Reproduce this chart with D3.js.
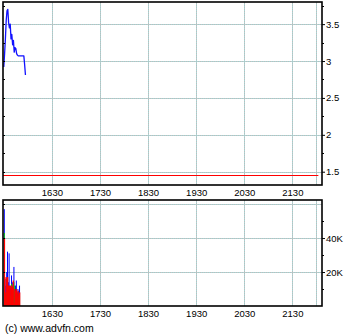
<!DOCTYPE html>
<html><head><meta charset="utf-8">
<script src="https://cdn.jsdelivr.net/npm/d3@7"></script>
<style>
html,body{margin:0;padding:0;background:#fff;}
svg{display:block;font-family:"Liberation Sans",Arial,sans-serif;}
</style></head>
<body>
<svg id="c" width="360" height="336"></svg>
<script>
// ---- data ----
const timeTickLabels = ["1630","1730","1830","1930","2030","2130"];
const sessionEnd = "2200";
const startTime = "1530";               // first minute of the series
const priceTicks = [1.5, 2, 2.5, 3, 3.5];
const priceTickLabels = ["1.5","2","2.5","3","3.5"];
const volumeTicks = [20000, 40000];
const volumeTickLabels = ["20K","40K"];
const prevClose = 1.45;
// one value per minute from 15:30
const prices = [2.92,3.10,3.30,3.55,3.68,3.70,3.52,3.45,3.50,3.30,3.36,3.22,3.28,3.12,3.18,3.17,3.10,3.08,3.07,3.07,3.07,3.07,3.07,3.07,3.07,3.07,2.95,2.81];
const volTotal = [57000,16000,12000,20000,32000,14000,31000,10000,12000,18000,14000,9000,23000,10000,12000,15000,8000,10000,9000,12000];
const volBuy   = [43000,6000,5000,8000,10000,6000,8000,4000,6000,13000,12000,5000,14000,12000,6000,5000,4000,5000,5000,6000];
const volSell  = [40000,8000,17000,16000,17000,12000,12000,12000,11000,12000,11000,15000,2000,10000,9000,10000,8000,9000,7000,8000];
const credit = "(c) www.advfn.com";

// ---- helpers ----
const toMin = s => +s.slice(0,2)*60 + +s.slice(2);
const t0 = toMin(startTime);

const svg = d3.select("#c");
const L = 3, R = 322;
const top1 = 2, bot1 = 185, top2 = 200, bot2 = 306;

const x = d3.scaleLinear().domain([toMin("1529"), toMin("2207")]).range([L, R]);
const yP = d3.scaleLinear().domain([1.32, 3.80]).range([bot1, top1]);
const yV = d3.scaleLinear().domain([0, 62400]).range([bot2, top2]);

function grid(g, y0, y1, hVals, yScale){
  const vx = timeTickLabels.map(toMin).concat([toMin(sessionEnd)]);
  const drawLine = (sel) => {
    sel.append("line").attr("stroke","#bdbdbd").attr("stroke-width",1);
    sel.append("line").attr("stroke","#a6d6d6").attr("stroke-width",1).attr("stroke-dasharray","1,1");
  };
  vx.forEach(v=>{
    const px = Math.round(x(v))+0.5;
    const s = g.append("g"); drawLine(s);
    s.selectAll("line").attr("x1",px).attr("x2",px).attr("y1",y0).attr("y2",y1);
  });
  hVals.forEach(v=>{
    const py = Math.round(yScale(v))+0.5;
    const s = g.append("g"); drawLine(s);
    s.selectAll("line").attr("x1",L).attr("x2",R).attr("y1",py).attr("y2",py);
  });
}

// ---- top panel ----
const g1 = svg.append("g");
grid(g1, top1, bot1, priceTicks, yP);
g1.append("line").attr("x1",L).attr("x2",x(toMin(sessionEnd))+2)
  .attr("y1",Math.round(yP(prevClose))+0.5).attr("y2",Math.round(yP(prevClose))+0.5)
  .attr("stroke","#ff0000").attr("stroke-width",1);
const line = d3.line().x((d,i)=>x(t0+i)).y(d=>yP(d));
g1.append("path").datum(prices).attr("d",line).attr("fill","none")
  .attr("stroke","#1010ff").attr("stroke-width",1.3).attr("stroke-linejoin","round");

// right axis
const axP = d3.axisRight(yP).tickValues(priceTicks).tickFormat((d,i)=>priceTickLabels[i]).tickSize(3).tickPadding(1);
const ga = svg.append("g").attr("transform",`translate(${R},0)`).call(axP);
ga.select(".domain").remove();
ga.selectAll("text").attr("font-size",9.5).attr("fill","#000");
const minorP = d3.range(1.5,3.8,0.25).filter(v=>v%0.5!==0);
svg.append("g").selectAll("line").data(minorP).join("line")
  .attr("x1",R).attr("x2",R+2).attr("y1",d=>Math.round(yP(d))+0.5).attr("y2",d=>Math.round(yP(d))+0.5).attr("stroke","#000");
svg.append("g").selectAll("line").data(d3.range(1.5,3.8,0.25)).join("line")
  .attr("x1",L).attr("x2",L+2).attr("y1",d=>Math.round(yP(d))+0.5).attr("y2",d=>Math.round(yP(d))+0.5).attr("stroke","#000");

svg.append("rect").attr("x",L).attr("y",top1).attr("width",R-L).attr("height",bot1-top1)
  .attr("fill","none").attr("stroke","#000").attr("stroke-width",1.6);

// time labels top
const axT1 = d3.axisBottom(x).tickValues(timeTickLabels.map(toMin)).tickFormat((d,i)=>timeTickLabels[i]).tickSize(0).tickPadding(4);
const gt1 = svg.append("g").attr("transform",`translate(0,${bot1})`).call(axT1);
gt1.select(".domain").remove();
gt1.selectAll("text").attr("font-size",9.5).attr("fill","#000");

// ---- bottom panel ----
const g2 = svg.append("g");
grid(g2, top2, bot2, [20000,40000,60000], yV);
const bw = Math.max(1, x(t0+1)-x(t0));
g2.selectAll("rect.t").data(volTotal).join("rect").attr("class","t")
  .attr("x",(d,i)=>x(t0+i)).attr("width",1).attr("y",d=>yV(d)).attr("height",d=>bot2-yV(d)).attr("fill","#0000ff");
g2.selectAll("rect.b").data(volBuy).join("rect").attr("class","b")
  .attr("x",(d,i)=>x(t0+i)).attr("width",bw).attr("y",d=>yV(d)).attr("height",d=>bot2-yV(d)).attr("fill","#00cc00");
g2.selectAll("rect.s").data(volSell).join("rect").attr("class","s")
  .attr("x",(d,i)=>x(t0+i)).attr("width",bw+0.3).attr("y",d=>yV(d)).attr("height",d=>bot2-yV(d)).attr("fill","#ff0000");

const axV = d3.axisRight(yV).tickValues(volumeTicks).tickFormat((d,i)=>volumeTickLabels[i]).tickSize(3).tickPadding(1);
const gv = svg.append("g").attr("transform",`translate(${R},0)`).call(axV);
gv.select(".domain").remove();
gv.selectAll("text").attr("font-size",9.5).attr("fill","#000");
svg.append("g").selectAll("line").data([10000,30000,50000]).join("line")
  .attr("x1",R).attr("x2",R+2).attr("y1",d=>Math.round(yV(d))+0.5).attr("y2",d=>Math.round(yV(d))+0.5).attr("stroke","#000");
svg.append("g").selectAll("line").data([20000,40000,60000]).join("line")
  .attr("x1",L).attr("x2",L+2).attr("y1",d=>Math.round(yV(d))+0.5).attr("y2",d=>Math.round(yV(d))+0.5).attr("stroke","#000");

svg.append("rect").attr("x",L).attr("y",top2).attr("width",R-L).attr("height",bot2-top2)
  .attr("fill","none").attr("stroke","#000").attr("stroke-width",1.6);

const gt2 = svg.append("g").attr("transform",`translate(0,${bot2})`).call(axT1);
gt2.select(".domain").remove();
gt2.selectAll("text").attr("font-size",9.5).attr("fill","#000");

svg.append("text").attr("x",5).attr("y",332).attr("font-size",10.5).attr("fill","#000").text(credit);
</script>
</body></html>
